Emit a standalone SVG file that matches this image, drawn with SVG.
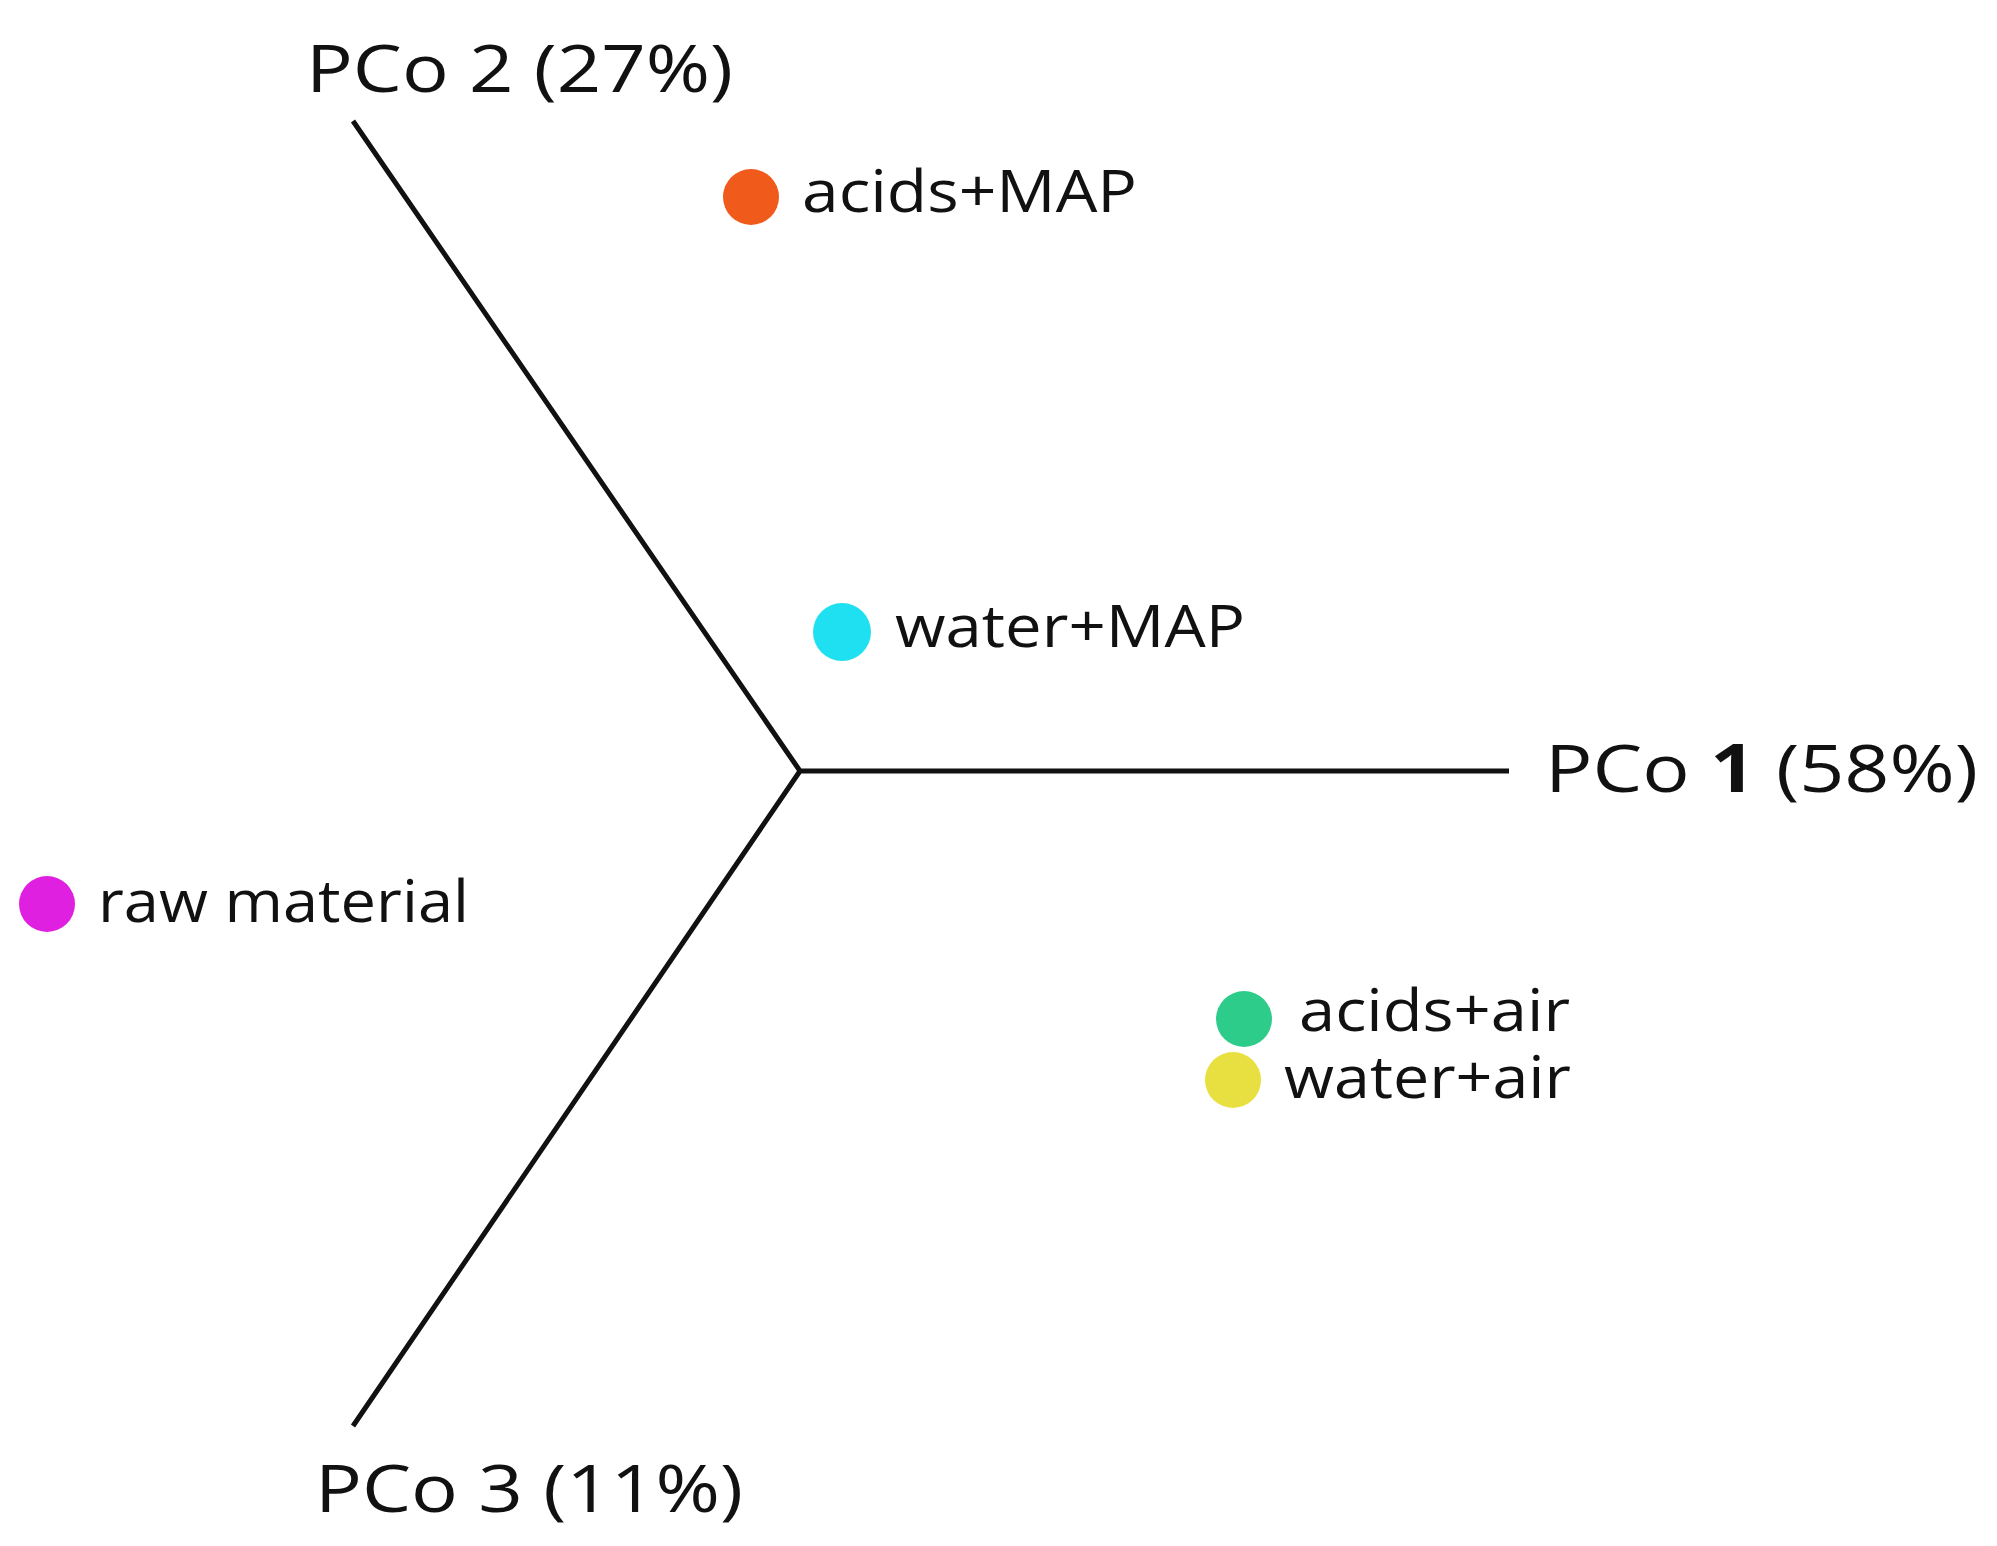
<svg xmlns="http://www.w3.org/2000/svg" width="1997" height="1546" viewBox="0 0 1997 1546">
<style>
text{font-family:"Open Sans","Liberation Sans",sans-serif;fill:#111}
.ax{font-size:66px}.lb{font-size:58px}
.axis{stroke:#111;stroke-width:5;fill:none}
</style>
<rect width="1997" height="1546" fill="#fff"/>
<g id="connectors">
<path class="axis" d="M353,121 L800,771 L1509,771 M800,771 L353,1426"/>
</g>
<g id="axis-labels">
<text class="ax" x="306" y="92" textLength="427" lengthAdjust="spacingAndGlyphs">PCo 2 (27%)</text>
<text class="ax" x="1545" y="792" textLength="433" lengthAdjust="spacingAndGlyphs">PCo <tspan font-weight="bold">1</tspan> (58%)</text>
<text class="ax" x="315" y="1512" textLength="428" lengthAdjust="spacingAndGlyphs">PCo 3 (11%)</text>
</g>
<g id="acids-map"><circle cx="751" cy="197" r="28" fill="#f05a1a"/><text class="lb" x="802" y="212" textLength="335" lengthAdjust="spacingAndGlyphs">acids+MAP</text></g>
<g id="water-map"><circle cx="842" cy="632" r="29" fill="#1fe0f0"/><text class="lb" x="895" y="647" textLength="350" lengthAdjust="spacingAndGlyphs">water+MAP</text></g>
<g id="raw-material"><circle cx="47" cy="904" r="28" fill="#e020e0"/><text class="lb" x="98" y="922" textLength="371" lengthAdjust="spacingAndGlyphs">raw material</text></g>
<g id="acids-air"><circle cx="1244" cy="1019" r="28" fill="#2ecc8a"/><text class="lb" x="1299" y="1031" textLength="271" lengthAdjust="spacingAndGlyphs">acids+air</text></g>
<g id="water-air"><circle cx="1233" cy="1080" r="28" fill="#e8e040"/><text class="lb" x="1284" y="1098" textLength="287" lengthAdjust="spacingAndGlyphs">water+air</text></g>
</svg>
